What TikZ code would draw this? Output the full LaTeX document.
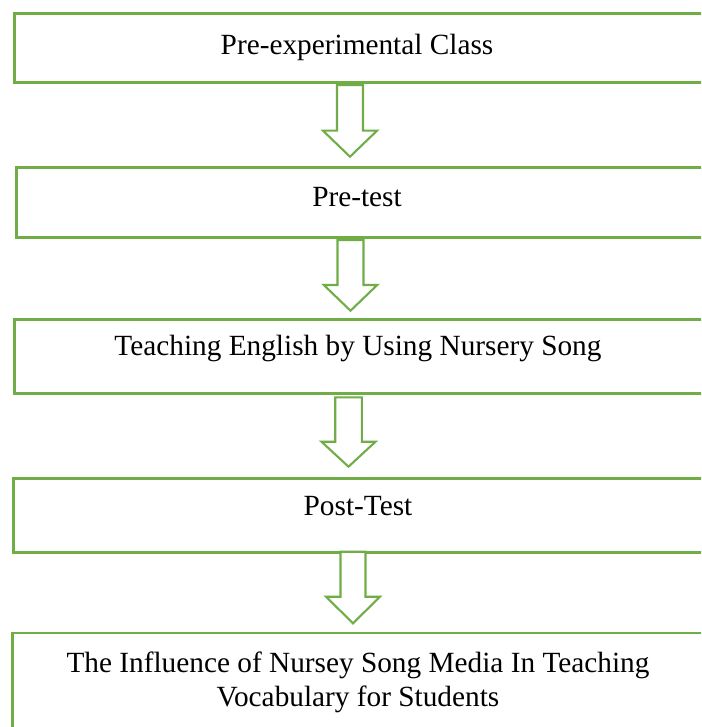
\documentclass[tikz,border=0pt]{standalone}
\usepackage{fontspec}
\setmainfont{Liberation Serif}
\definecolor{grn}{HTML}{70AD47}
\tikzset{
  boxnode/.style={draw=grn, line width=2.8pt, rectangle, inner sep=0pt, anchor=north west, minimum width=720pt},
  lbl/.style={font=\fontsize{29.3}{34}\selectfont, align=center, inner sep=0pt, anchor=base},
  barrow/.style={draw=grn, line width=2.1pt, fill=white, line join=miter},
}
\newcommand\blockarrow[6]{%
  \draw[barrow] (#1-#5,#2) -- (#1+#5,#2) -- (#1+#5,#3) -- (#1+#6,#3) -- (#1,#4) -- (#1-#6,#3) -- (#1-#5,#3) -- cycle;}
\begin{document}
\begin{tikzpicture}[x=1pt,y=-1pt]
\useasboundingbox[fill=white] (0,0) rectangle (701,727);
\begin{scope}
\clip (0,0) rectangle (701,727);
\node[boxnode, minimum height=69pt] (b1) at (13,12.5) {};
\node[boxnode, minimum height=70pt] (b2) at (15,166) {};
\node[boxnode, minimum height=74pt] (b3) at (13.3,318) {};
\node[boxnode, minimum height=74pt] (b4) at (11.7,476.7) {};
\node[boxnode, minimum height=140pt] (b5) at (11,631.5) {};
\blockarrow{350}{85}{130.7}{156.7}{13}{27}
\blockarrow{350.5}{240}{285}{310.7}{13}{26.7}
\blockarrow{348.5}{397.3}{441.7}{466.7}{13.3}{27}
\blockarrow{353}{551.7}{596.7}{623.3}{12.5}{27}
\end{scope}
\node[lbl] (t1) at (357,55) {Pre-experimental Class};
\node[lbl] (t2) at (357,207) {Pre-test};
\node[lbl] (t3) at (358,355) {Teaching English by Using Nursery Song};
\node[lbl] (t4) at (358,515) {Post-Test};
\node[lbl] (t5a) at (358,672) {The Influence of Nursey Song Media In Teaching};
\node[lbl] (t5b) at (358,706) {Vocabulary for Students};
\end{tikzpicture}
\end{document}
